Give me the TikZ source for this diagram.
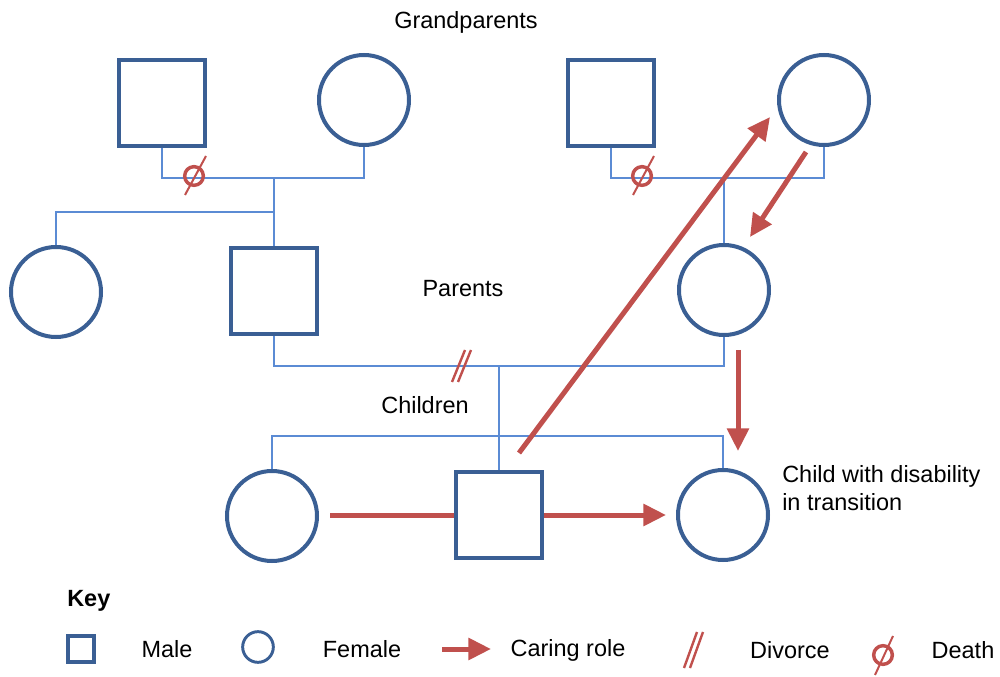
\documentclass[tikz,border=0pt]{standalone}
\usepackage{fontspec}
\setmainfont{Liberation Sans}
\usetikzlibrary{arrows.meta}
\definecolor{pblue}{HTML}{3A5F94}
\definecolor{lblue}{HTML}{5B8BD4}
\definecolor{cred}{HTML}{C0504D}
\begin{document}
\begin{tikzpicture}[x=0.75pt,y=-0.75pt,
  male/.style={draw=pblue,line width=3pt,rectangle,minimum size=64.5pt,inner sep=0pt},
  female/.style={draw=pblue,line width=3pt,circle,minimum size=67.5pt,inner sep=0pt},
  link/.style={draw=lblue,line width=0.9pt},
  care/.style={draw=cred,line width=3.75pt},
  carearrow/.style={care,-{Triangle[length=17pt,width=16pt]}},
  lbl/.style={font=\fontsize{17.6}{21}\selectfont,inner sep=0pt},
  deathmark/.style={draw=cred,line width=2.6pt,circle,minimum size=14pt,inner sep=0pt},
  slash/.style={draw=cred,line width=1.5pt},
  divslash/.style={draw=cred,line width=1.8pt}
]
\useasboundingbox (0,0) rectangle (1000,677);

% people
\node[male]   (gp1) at (162,103) {};
\node[female] (gp2) at (364,100) {};
\node[male]   (gp3) at (611,103) {};
\node[female] (gp4) at (824,100) {};
\node[female] (aunt) at (56,292) {};
\node[male]   (father) at (274,291) {};
\node[female] (mother) at (724,290) {};
\node[female] (c1) at (272,516) {};
\node[male]   (c2) at (499,515) {};
\node[female] (c3) at (723,515) {};

% junction coordinates
\coordinate (j1) at (274,178);
\coordinate (j2) at (274,212);
\coordinate (j3) at (724,178);
\coordinate (j4) at (499,366);
\coordinate (j5) at (499,436);

% links
\draw[link] (gp1.south) |- (j1) -| (gp2.south);
\draw[link] (j1) -- (j2);
\draw[link] (aunt.north) |- (j2) -- (father.north);
\draw[link] (gp3.south) |- (j3) -| (gp4.south);
\draw[link] (j3) -- (mother.north);
\draw[link] (father.south) |- (j4) -| (mother.south);
\draw[link] (j4) -- (c2.north);
\draw[link] (c1.north) |- (j5) -| (c3.north);

% death marks
\node[deathmark] (d1) at (194,176) {};
\draw[slash] ([shift={(-9,19)}]d1.center) -- ([shift={(12,-20)}]d1.center);
\node[deathmark] (d2) at (642,176) {};
\draw[slash] ([shift={(-9,19)}]d2.center) -- ([shift={(12,-20)}]d2.center);

% divorce mark
\coordinate (dv) at (461,366);
\draw[divslash] ([shift={(-9,16)}]dv) -- ([shift={(4,-16)}]dv);
\draw[divslash] ([shift={(-3,16)}]dv) -- ([shift={(10,-16)}]dv);

% caring arrows
\coordinate (a1s) at (519,453);
\coordinate (a1e) at (770,117);
\draw[carearrow] (a1s) -- (a1e);
\coordinate (a2s) at (806,152);
\coordinate (a2e) at (750,237);
\draw[carearrow] (a2s) -- (a2e);
\coordinate (a3s) at (738,350);
\coordinate (a3e) at (738,451);
\draw[carearrow] (a3s) -- (a3e);
\coordinate (a4s) at (330,515);
\draw[care] (a4s) -- (c2.west);
\coordinate (a5e) at (666,515);
\draw[carearrow] (c2.east) -- (a5e);

% labels
\node[lbl] (tg) at (466,22) {Grandparents};
\node[lbl] (tp) at (463,289) {Parents};
\node[lbl] (tc) at (425,405) {Children};
\node[lbl,anchor=west,align=left] (tcd) at (782,488) {Child with disability\\in transition};

% key
\node[lbl,font=\fontsize{17.6}{21}\selectfont\bfseries,anchor=west] (key) at (67,601) {Key};
\node[draw=pblue,line width=3pt,rectangle,minimum size=20pt,inner sep=0pt] (kmale) at (81,649) {};
\node[lbl] (tmale) at (167,649) {Male};
\node[draw=pblue,line width=2.2pt,circle,minimum size=23pt,inner sep=0pt] (kfemale) at (258,647) {};
\node[lbl] (tfemale) at (362,649) {Female};
\coordinate (kas) at (442,649);
\coordinate (kae) at (491,649);
\draw[carearrow] (kas) -- (kae);
\node[lbl] (tcare) at (568,650) {Caring role};
\coordinate (kdv) at (693,650);
\draw[divslash] ([shift={(-9,18)}]kdv) -- ([shift={(4,-18)}]kdv);
\draw[divslash] ([shift={(-3,18)}]kdv) -- ([shift={(10,-18)}]kdv);
\node[lbl] (tdiv) at (790,650) {Divorce};
\node[deathmark] (kd) at (883,655) {};
\draw[slash] ([shift={(-8,20)}]kd.center) -- ([shift={(10,-19)}]kd.center);
\node[lbl] (tdeath) at (963,650) {Death};
\end{tikzpicture}
\end{document}
